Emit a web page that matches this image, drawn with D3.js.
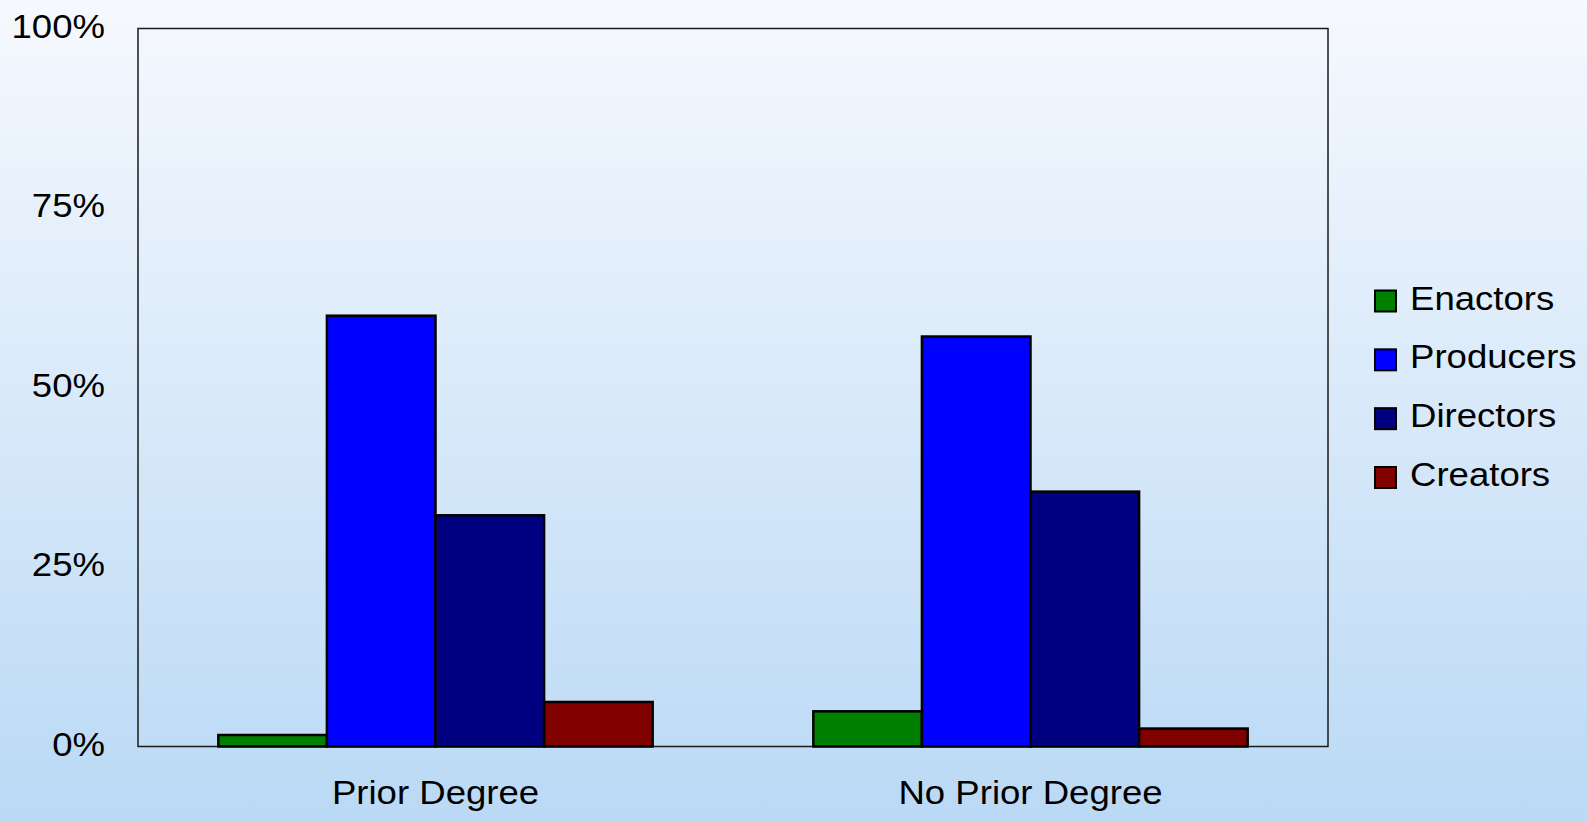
<!DOCTYPE html>
<html>
<head>
<meta charset="utf-8">
<script src="https://cdn.jsdelivr.net/npm/d3@7"></script>
<style>
  html, body { margin: 0; padding: 0; }
  body { width: 1587px; height: 822px; overflow: hidden; }
  svg { display: block; font-family: "Liberation Sans", Arial, sans-serif; }
</style>
</head>
<body>
<svg id="chart" width="1587" height="822"></svg>
<script>
const categories = ["Prior Degree", "No Prior Degree"];
const seriesNames = ["Enactors", "Producers", "Directors", "Creators"];
const seriesColors = ["#008000", "#0000FF", "#000080", "#800000"];
const enactors = [0.016, 0.049];
const producers = [0.600, 0.571];
const directors = [0.322, 0.355];
const creators = [0.062, 0.025];
const yTicks = [0, 0.25, 0.5, 0.75, 1];

const seriesValues = [enactors, producers, directors, creators];

const W = 1587, H = 822;
const plot = { left: 138, right: 1328, top: 28.5, bottom: 746.5 };
const STRETCH = 1.075;

const svg = d3.select("#chart");

// background gradient
const defs = svg.append("defs");
const grad = defs.append("linearGradient").attr("id", "bg")
  .attr("x1", 0).attr("y1", 0).attr("x2", 0).attr("y2", 1);
grad.append("stop").attr("offset", "0%").attr("stop-color", "#F6F9FE");
grad.append("stop").attr("offset", "100%").attr("stop-color", "#BAD9F5");
svg.append("rect").attr("width", W).attr("height", H).attr("fill", "url(#bg)");

const x0 = d3.scaleBand().domain(categories)
  .range([plot.left, plot.right]).paddingInner(0.27).paddingOuter(0.135);
const x1 = d3.scaleBand().domain(seriesNames).range([0, x0.bandwidth()]).padding(0);
const y = d3.scaleLinear().domain([0, 1]).range([plot.bottom, plot.top]);

// plot frame
svg.append("rect")
  .attr("x", plot.left).attr("y", plot.top)
  .attr("width", plot.right - plot.left).attr("height", plot.bottom - plot.top)
  .attr("fill", "none").attr("stroke", "#1a1a1a").attr("stroke-width", 1.5);

// bars
const groups = svg.append("g").selectAll("g").data(categories).join("g")
  .attr("transform", d => `translate(${x0(d)},0)`);
groups.selectAll("rect")
  .data((c, ci) => seriesNames.map((s, si) => ({ s, si, v: seriesValues[si][ci] })))
  .join("rect")
  .attr("x", d => x1(d.s))
  .attr("y", d => y(d.v))
  .attr("width", x1.bandwidth())
  .attr("height", d => y(0) - y(d.v))
  .attr("fill", d => seriesColors[d.si])
  .attr("stroke", "#000").attr("stroke-width", 2.5);

// y axis
const yAxis = d3.axisLeft(y).tickValues(yTicks).tickSize(0).tickPadding(33)
  .tickFormat(d3.format(".0%"));
const yg = svg.append("g").attr("transform", `translate(${plot.left},0)`).call(yAxis);
yg.select(".domain").remove();
yg.selectAll("text").attr("font-size", 34).attr("fill", "#000")
  .attr("font-family", "'Liberation Sans', Arial, sans-serif")
  .attr("dy", "0.26em");

// x axis
const xAxis = d3.axisBottom(x0).tickSize(0).tickPadding(40);
const xg = svg.append("g").attr("transform", `translate(0,${plot.bottom})`).call(xAxis);
xg.select(".domain").remove();
xg.selectAll("text").attr("font-size", 34).attr("fill", "#000")
  .attr("font-family", "'Liberation Sans', Arial, sans-serif")
  .attr("dy", "0.5em");

// legend
const legendY = d3.scalePoint().domain(seriesNames).range([301, 477.5]);
const lg = svg.append("g").selectAll("g").data(seriesNames).join("g")
  .attr("transform", d => `translate(1375,${legendY(d)})`);
lg.append("rect").attr("x", 0).attr("y", -10.5).attr("width", 21).attr("height", 21)
  .attr("fill", (d, i) => seriesColors[i]).attr("stroke", "#000").attr("stroke-width", 2);
lg.append("text").attr("x", 35).attr("y", 8.5).attr("font-size", 34)
  .attr("fill", "#000").text(d => d);

// slight horizontal stretch of text to match the reference rendering
svg.selectAll("text").each(function () {
  const len = this.getComputedTextLength();
  d3.select(this).attr("textLength", len * STRETCH).attr("lengthAdjust", "spacingAndGlyphs");
});
</script>
</body>
</html>
